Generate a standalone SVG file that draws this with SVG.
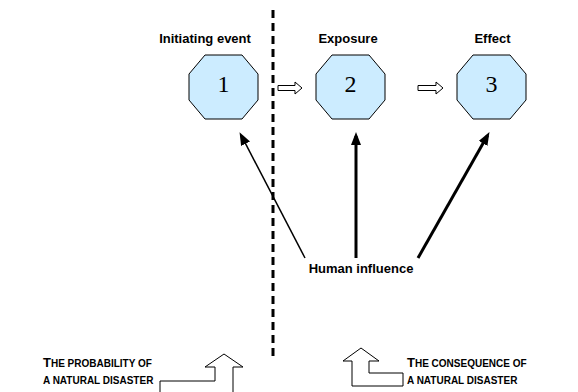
<svg xmlns="http://www.w3.org/2000/svg" width="578" height="392" viewBox="0 0 578 392">
<style>
.lbl{font-family:"Liberation Sans",Arial,sans-serif;font-weight:bold;font-size:13px;fill:#000}
.cap{font-family:"Liberation Sans",Arial,sans-serif;font-weight:bold;font-size:10px;fill:#000}
.num{font-family:"Liberation Serif","Times New Roman",serif;font-size:24px;fill:#000;text-anchor:middle}
.oct{fill:#CCECFF;stroke:#000;stroke-width:1}
.blk{fill:#fff;stroke:#000;stroke-width:1}
.infl{fill:none;stroke:#000}
</style>
<defs>
<polygon id="octa" points="16,0 53,0 69,19 69,45 53,64 16,64 0,45 0,19"/>
<marker id="ah" markerUnits="userSpaceOnUse" markerWidth="13" markerHeight="10" refX="9" refY="5" orient="auto">
<path d="M0,0 L13,5 L0,10 Z" fill="#000"/>
</marker>
</defs>
<rect width="578" height="392" fill="#fff"/>

<g id="divider">
<line x1="273" y1="10" x2="273" y2="357" stroke="#000" stroke-width="3" stroke-dasharray="8 5"/>
</g>

<g id="node1">
<text class="lbl" x="205" y="43" text-anchor="middle">Initiating event</text>
<use href="#octa" class="oct" transform="translate(189,55)"/>
<text class="num" x="223.5" y="92">1</text>
</g>
<g id="node2">
<text class="lbl" x="348" y="43" text-anchor="middle">Exposure</text>
<use href="#octa" class="oct" transform="translate(316,55)"/>
<text class="num" x="350.5" y="92">2</text>
</g>
<g id="node3">
<text class="lbl" x="492.5" y="43" text-anchor="middle">Effect</text>
<use href="#octa" class="oct" transform="translate(457,55)"/>
<text class="num" x="491.5" y="92">3</text>
</g>

<g id="human">
<text class="lbl" x="361" y="273" text-anchor="middle">Human influence</text>
</g>

<g id="connectors">
<path class="blk" d="M278,85.5 H295 V82 L302,88 L295,94 V90.5 H278 Z"/>
<path class="blk" d="M418,85.5 H436 V82 L443,88 L436,94 V90.5 H418 Z"/>
<line class="infl" x1="305" y1="258" x2="241.4" y2="135.7" stroke-width="1.5" marker-end="url(#ah)"/>
<line class="infl" x1="356" y1="258" x2="356" y2="136" stroke-width="3" marker-end="url(#ah)"/>
<line class="infl" x1="418" y1="258" x2="487.5" y2="135.6" stroke-width="3" marker-end="url(#ah)"/>
</g>

<g id="probability">
<text class="cap" x="43" y="367"><tspan font-size="13">T</tspan>HE PROBABILITY OF</text>
<text class="cap" x="43" y="384">A NATURAL DISASTER</text>
<path class="blk" d="M160,395 V381 H215 V367 H205 L224,354 L243,367 H233 V395 Z"/>
</g>

<g id="consequence">
<text class="cap" x="407" y="367"><tspan font-size="13">T</tspan>HE CONSEQUENCE OF</text>
<text class="cap" x="407" y="384">A NATURAL DISASTER</text>
<path class="blk" d="M352,386 V361 H343 L361,348 L379,361 H369 V373 H403 V386 Z"/>
</g>
</svg>
